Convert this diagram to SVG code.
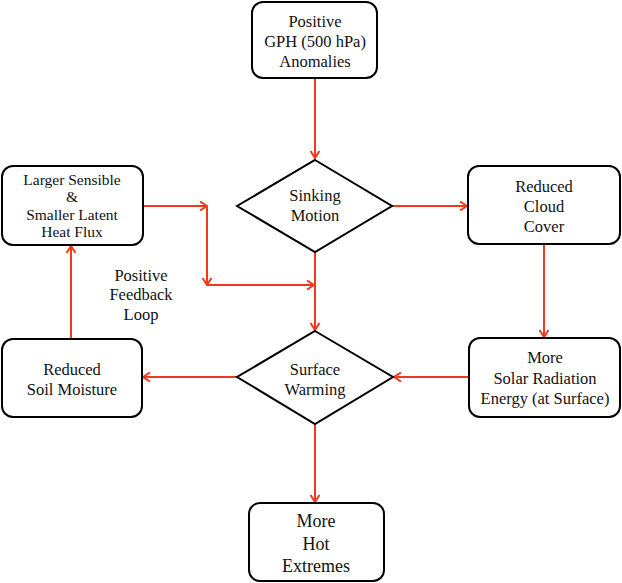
<svg xmlns="http://www.w3.org/2000/svg" width="622" height="583" viewBox="0 0 622 583">
<style>
.box{fill:#fff;stroke:#000;stroke-width:2}
.t{font-family:'Liberation Serif','Times New Roman','DejaVu Serif',serif;font-size:16.5px;fill:#111;text-anchor:middle}
.big{font-size:18px}
.sm{font-size:15.5px}
.c{fill:none;stroke:#f0391e;stroke-width:2}
</style>
<defs>
<marker id="ah" viewBox="0 0 10 10" refX="9" refY="5" markerWidth="10" markerHeight="10" markerUnits="userSpaceOnUse" orient="auto">
<path d="M2,0.5 L9,5 L2,9.5" fill="none" stroke="#f0391e" stroke-width="2"/>
</marker>
</defs>
<rect width="622" height="583" fill="#fff"/>
<g id="connectors">
<path class="c" d="M315,78 V158" marker-end="url(#ah)"/>
<path class="c" d="M392,206 H467" marker-end="url(#ah)"/>
<path class="c" d="M544,244 V337" marker-end="url(#ah)"/>
<path class="c" d="M468,377 H394" marker-end="url(#ah)"/>
<path class="c" d="M237,377 H143" marker-end="url(#ah)"/>
<path class="c" d="M71,339 V246" marker-end="url(#ah)"/>
<path class="c" d="M143,206 H207" marker-end="url(#ah)"/>
<path class="c" d="M207,206 V285" marker-end="url(#ah)"/>
<path class="c" d="M207,285 H314" marker-end="url(#ah)"/>
<path class="c" d="M315,252 V330" marker-end="url(#ah)"/>
<path class="c" d="M315,424 V502" marker-end="url(#ah)"/>
</g>
<g id="gph">
<rect class="box" x="252" y="2" width="125" height="76" rx="11"/>
<text class="t" x="315" y="27">Positive</text>
<text class="t" x="315" y="47">GPH (500 hPa)</text>
<text class="t" x="315" y="67">Anomalies</text>
</g>
<g id="sinking">
<polygon class="box" points="315,160 392,206 315,252 237,206"/>
<text class="t" x="315" y="201">Sinking</text>
<text class="t" x="315" y="221">Motion</text>
</g>
<g id="flux">
<rect class="box" x="2" y="166" width="141" height="79" rx="11"/>
<text class="t sm" x="72" y="184.5">Larger Sensible</text>
<text class="t sm" x="72" y="202">&amp;</text>
<text class="t sm" x="72" y="219.5">Smaller Latent</text>
<text class="t sm" x="72" y="237">Heat Flux</text>
</g>
<g id="cloud">
<rect class="box" x="468" y="166" width="152" height="78" rx="11"/>
<text class="t" x="544" y="192">Reduced</text>
<text class="t" x="544" y="212">Cloud</text>
<text class="t" x="544" y="232">Cover</text>
</g>
<g id="feedback-label">
<text class="t" x="141" y="281">Positive</text>
<text class="t" x="141" y="300">Feedback</text>
<text class="t" x="141" y="320">Loop</text>
</g>
<g id="soil">
<rect class="box" x="2" y="339" width="140" height="78" rx="11"/>
<text class="t" x="72" y="375">Reduced</text>
<text class="t" x="72" y="395">Soil Moisture</text>
</g>
<g id="warming">
<polygon class="box" points="315,331 393,377 315,424 237,377"/>
<text class="t" x="315" y="375">Surface</text>
<text class="t" x="315" y="395">Warming</text>
</g>
<g id="solar">
<rect class="box" x="469" y="338" width="151" height="79" rx="11"/>
<text class="t" x="545" y="363">More</text>
<text class="t" x="545" y="384">Solar Radiation</text>
<text class="t" x="545" y="404">Energy (at Surface)</text>
</g>
<g id="hot">
<rect class="box" x="249" y="503" width="135" height="78" rx="11"/>
<text class="t big" x="316" y="527">More</text>
<text class="t big" x="316" y="550">Hot</text>
<text class="t big" x="316" y="572">Extremes</text>
</g>
</svg>
